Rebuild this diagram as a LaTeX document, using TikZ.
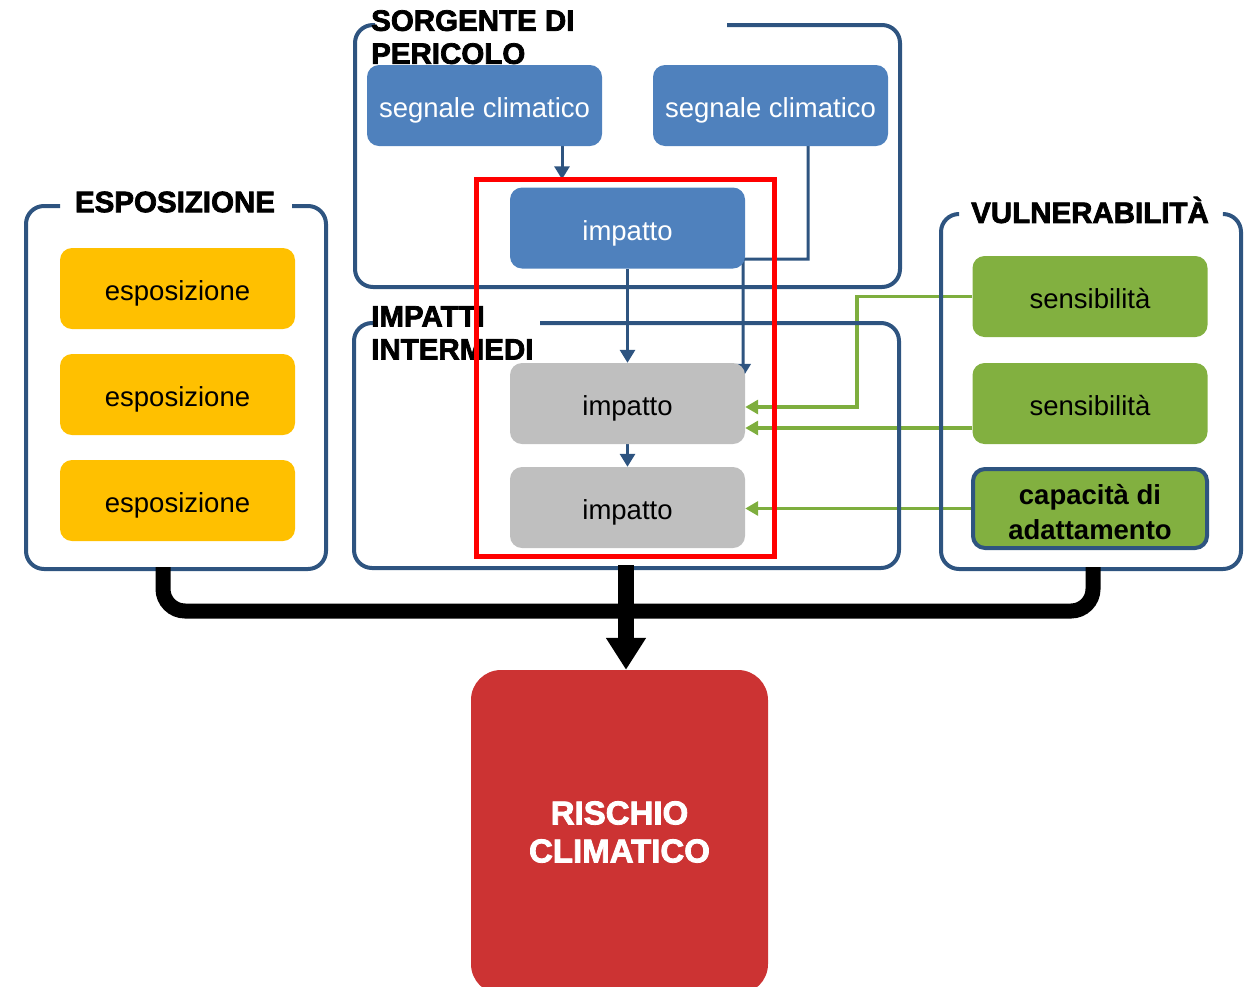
\documentclass[tikz,border=0pt]{standalone}
\usepackage{fontspec}
\setmainfont{Liberation Sans}
\newfontfamily\heavy[FakeBold=2.5]{Liberation Sans Bold}
\usetikzlibrary{arrows.meta,calc,backgrounds}
\definecolor{bordblue}{RGB}{46,84,128}
\definecolor{boxblue}{RGB}{79,129,189}
\definecolor{boxyellow}{RGB}{255,192,0}
\definecolor{boxgreen}{RGB}{130,176,64}
\definecolor{linegreen}{RGB}{126,174,62}
\definecolor{boxgray}{RGB}{191,191,191}
\definecolor{riskred}{RGB}{204,51,51}
\definecolor{focusred}{RGB}{255,0,0}
\begin{document}
\begin{tikzpicture}[x=1pt,y=-1pt,
  box/.style={rounded corners=12pt, minimum width=235pt, minimum height=81pt, inner sep=0pt, align=center, text height=24pt, text depth=0pt, font=\fontsize{27.5}{33}\selectfont},
  bluebox/.style={box, fill=boxblue, text=white},
  graybox/.style={box, fill=boxgray, text=black},
  yellowbox/.style={box, fill=boxyellow, text=black},
  greenbox/.style={box, fill=boxgreen, text=black},
  container/.style={draw=bordblue, line width=4pt, rounded corners=18pt},
  heading/.style={font=\heavy\fontsize{29.5}{33}\selectfont, inner sep=0pt, align=left, text=black},
  barrow/.style={draw=bordblue, line width=3pt, -{Triangle[width=15pt,length=13pt]}},
  garrow/.style={draw=linegreen, line width=3.5pt, -{Triangle[width=14pt,length=13pt]}},
  fatline/.style={draw=black, line width=15pt, rounded corners=22pt},
  fatarrow/.style={draw=black, line width=16pt, -{Triangle[width=38pt,length=32pt]}}
]
\useasboundingbox (0,0) rectangle (1250,986);

% containers
\draw[container] (727,25) -- (900,25) -- (900,287) -- (355,287) -- (355,25) -- (375,25);
\draw[container] (540,323) -- (899,323) -- (899,568) -- (354,568) -- (354,323) -- (374,323);
\draw[container] (292,206) -- (326,206) -- (326,569) -- (26,569) -- (26,206) -- (60,206);
\draw[container] (1224,214) -- (1241,214) -- (1241,569) -- (941,569) -- (941,214) -- (957,214);

% headings
\node[heading, anchor=north west] (hsorg) at (371,10) {SORGENTE DI\\PERICOLO};
\node[heading, anchor=north west] (himp) at (371,306) {IMPATTI\\INTERMEDI};
\node[heading] (hesp) at (175,202) {ESPOSIZIONE};
\node[heading] (hvul) at (1090,210) {VULNERABILIT\`A};

% boxes
\node[bluebox] (seg1) at (484.5,105.5) {segnale climatico};
\node[bluebox] (seg2) at (770.5,105.5) {segnale climatico};
\node[bluebox] (imp0) at (627.5,228) {impatto};
\node[graybox] (gray1) at (627.5,403.5) {impatto};
\node[graybox] (gray2) at (627.5,507.5) {impatto};
\node[yellowbox] (esp1) at (177.5,288.5) {esposizione};
\node[yellowbox] (esp2) at (177.5,394.5) {esposizione};
\node[yellowbox] (esp3) at (177.5,500.5) {esposizione};
\node[greenbox] (sens1) at (1090,296.5) {sensibilit\`a};
\node[greenbox] (sens2) at (1090,403.5) {sensibilit\`a};
\node[rounded corners=12pt, fill=boxgreen, draw=bordblue, line width=4pt, minimum width=234pt, minimum height=79pt, inner sep=0pt, font=\bfseries\fontsize{27.5}{35}\selectfont] (cap) at (1090,508.5) {\raisebox{4.5pt}[0pt][0pt]{\begin{tabular}[t]{@{}c@{}}capacit\`a di\\adattamento\end{tabular}}};
\node[fill=riskred, rounded corners=30pt, minimum width=297pt, minimum height=324pt, inner sep=0pt, text=white, align=center, font=\heavy\fontsize{33}{38}\selectfont] (risk) at (619.5,832) {RISCHIO\\CLIMATICO};

% connectors behind boxes
\begin{scope}[on background layer]
  \draw[barrow] ($(seg1.south)+(77.5,0)$) -- ($(imp0.north)+(-65.5,-8)$);
  \draw[barrow] ($(seg2.south)+(37.5,0)$) -- ($(seg2.south)+(37.5,113)$) -- ($(imp0.east)+(-2,31)$) -- ($(gray1.north east)+(-2,14)$);
  \draw[barrow] (imp0.south) -- (gray1.north);
  \draw[barrow] (gray1.south) -- (gray2.north);
  \draw[garrow] (sens1.west) -| ($(gray1.east)+(112,3.5)$) -- ($(gray1.east)+(0,3.5)$);
  \draw[garrow] ($(sens2.west)+(0,24.5)$) -- ($(gray1.east)+(0,24.5)$);
  \draw[garrow] (cap.west) -- (cap.west -| gray2.east);
\end{scope}

% focus frame
\node[draw=focusred, line width=5pt, minimum width=298pt, minimum height=377pt, inner sep=0pt] (focus) at (625,367.5) {};

% thick black connectors
\coordinate (espB) at (163,567);
\coordinate (vulB) at (1093,567);
\coordinate (impB) at (626,565);
\draw[fatline] (espB) -- ++(0,44) -| (vulB);
\draw[fatarrow] (impB) -- (impB |- risk.north);
\end{tikzpicture}
\end{document}
